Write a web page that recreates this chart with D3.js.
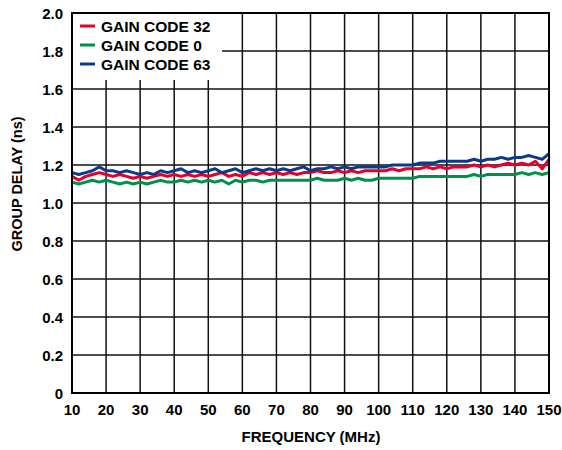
<!DOCTYPE html>
<html><head><meta charset="utf-8">
<script src="https://cdn.jsdelivr.net/npm/d3@7"></script>
<style>body{margin:0;background:#fff}svg{display:block}</style>
</head><body><svg id="c" width="562" height="450"></svg>
<script>
const freq = d3.range(10, 151, 2);
const gain63 = [1.16,1.15,1.16,1.17,1.19,1.17,1.17,1.16,1.17,1.16,1.15,1.16,1.15,1.17,1.16,1.17,1.18,1.16,1.17,1.16,1.17,1.18,1.16,1.17,1.18,1.16,1.17,1.18,1.17,1.18,1.17,1.18,1.17,1.18,1.19,1.17,1.18,1.18,1.19,1.18,1.19,1.18,1.19,1.19,1.19,1.19,1.19,1.20,1.20,1.20,1.20,1.21,1.21,1.21,1.22,1.22,1.22,1.22,1.22,1.23,1.22,1.23,1.23,1.24,1.23,1.24,1.24,1.25,1.24,1.23,1.26];
const gain32 = [1.14,1.12,1.14,1.15,1.16,1.15,1.14,1.15,1.14,1.13,1.14,1.13,1.14,1.15,1.14,1.15,1.14,1.15,1.14,1.15,1.14,1.15,1.16,1.14,1.15,1.14,1.16,1.15,1.16,1.15,1.16,1.15,1.16,1.15,1.16,1.16,1.17,1.16,1.16,1.17,1.16,1.17,1.16,1.17,1.17,1.17,1.17,1.18,1.17,1.18,1.18,1.18,1.19,1.18,1.19,1.18,1.19,1.19,1.19,1.20,1.19,1.20,1.19,1.20,1.21,1.20,1.21,1.20,1.22,1.18,1.23];
const gain0 = [1.11,1.10,1.11,1.12,1.11,1.12,1.11,1.10,1.11,1.10,1.11,1.10,1.11,1.12,1.11,1.11,1.12,1.11,1.12,1.11,1.12,1.11,1.12,1.10,1.12,1.11,1.12,1.12,1.11,1.12,1.12,1.12,1.12,1.12,1.12,1.12,1.13,1.12,1.12,1.12,1.13,1.12,1.13,1.12,1.12,1.13,1.13,1.13,1.13,1.13,1.13,1.14,1.14,1.14,1.14,1.14,1.14,1.14,1.14,1.15,1.14,1.15,1.15,1.15,1.15,1.15,1.16,1.15,1.16,1.15,1.16];
const xTicks = [10,20,30,40,50,60,70,80,90,100,110,120,130,140,150];
const yTicks = [0,0.2,0.4,0.6,0.8,1.0,1.2,1.4,1.6,1.8,2.0];
const seriesNames = ["GAIN CODE 32","GAIN CODE 0","GAIN CODE 63"];
const seriesColors = ["#e4002b","#00904a","#0a3a8c"];

const svg = d3.select("#c");
const L=72, R=549, T=13, B=393;
const x = d3.scaleLinear().domain([10,150]).range([L,R]);
const y = d3.scaleLinear().domain([0,2]).range([B,T]);
const font = "'Liberation Sans', Arial, sans-serif";

// grid
svg.append("g").selectAll("line").data(xTicks).join("line")
  .attr("x1",d=>x(d)).attr("x2",d=>x(d)).attr("y1",T).attr("y2",B)
  .attr("stroke","#111").attr("stroke-width",1.5);
svg.append("g").selectAll("line").data(yTicks).join("line")
  .attr("x1",L).attr("x2",R).attr("y1",d=>y(d)).attr("y2",d=>y(d))
  .attr("stroke","#111").attr("stroke-width",1.5);

// tick labels
svg.append("g").selectAll("text").data(yTicks).join("text")
  .attr("x",L-9).attr("y",d=>y(d)+5.5).attr("text-anchor","end")
  .attr("font-family",font).attr("font-weight","bold").attr("font-size",15)
  .text(d=>d===0?"0":d.toFixed(1));
svg.append("g").selectAll("text").data(xTicks).join("text")
  .attr("x",d=>x(d)).attr("y",B+22).attr("text-anchor","middle")
  .attr("font-family",font).attr("font-weight","bold").attr("font-size",15)
  .text(d=>d);

// lines
const data = [gain0, gain32, gain63];
const cols = [seriesColors[1], seriesColors[0], seriesColors[2]];
const line = d3.line().x((d,i)=>x(freq[i])).y(d=>y(d));
data.forEach((s,k)=>{
  svg.append("path").datum(s).attr("d",line).attr("fill","none")
    .attr("stroke",cols[k]).attr("stroke-width",3).attr("stroke-linejoin","round");
});

// legend
svg.append("rect").attr("x",L+1).attr("y",T+1).attr("width",149).attr("height",66).attr("fill","#fff");
const lg = svg.append("g");
seriesNames.forEach((n,i)=>{
  const yy = 26 + i*19;
  lg.append("line").attr("x1",80).attr("x2",95).attr("y1",yy).attr("y2",yy)
    .attr("stroke",seriesColors[i]).attr("stroke-width",3);
  lg.append("text").attr("x",101).attr("y",yy+5.5).attr("font-family",font)
    .attr("font-weight","bold").attr("font-size",15.5).text(n);
});

// frame
svg.append("rect").attr("x",L).attr("y",T).attr("width",R-L).attr("height",B-T)
  .attr("fill","none").attr("stroke","#000").attr("stroke-width",2);

// axis titles
svg.append("text").attr("x",311).attr("y",442).attr("text-anchor","middle")
  .attr("font-family",font).attr("font-weight","bold").attr("font-size",15).text("FREQUENCY (MHz)");
svg.append("text").attr("transform",`translate(22,${(T+B)/2 - 19}) rotate(-90)`).attr("text-anchor","middle")
  .attr("font-family",font).attr("font-weight","bold").attr("font-size",14.5).text("GROUP DELAY (ns)");
</script></body></html>
